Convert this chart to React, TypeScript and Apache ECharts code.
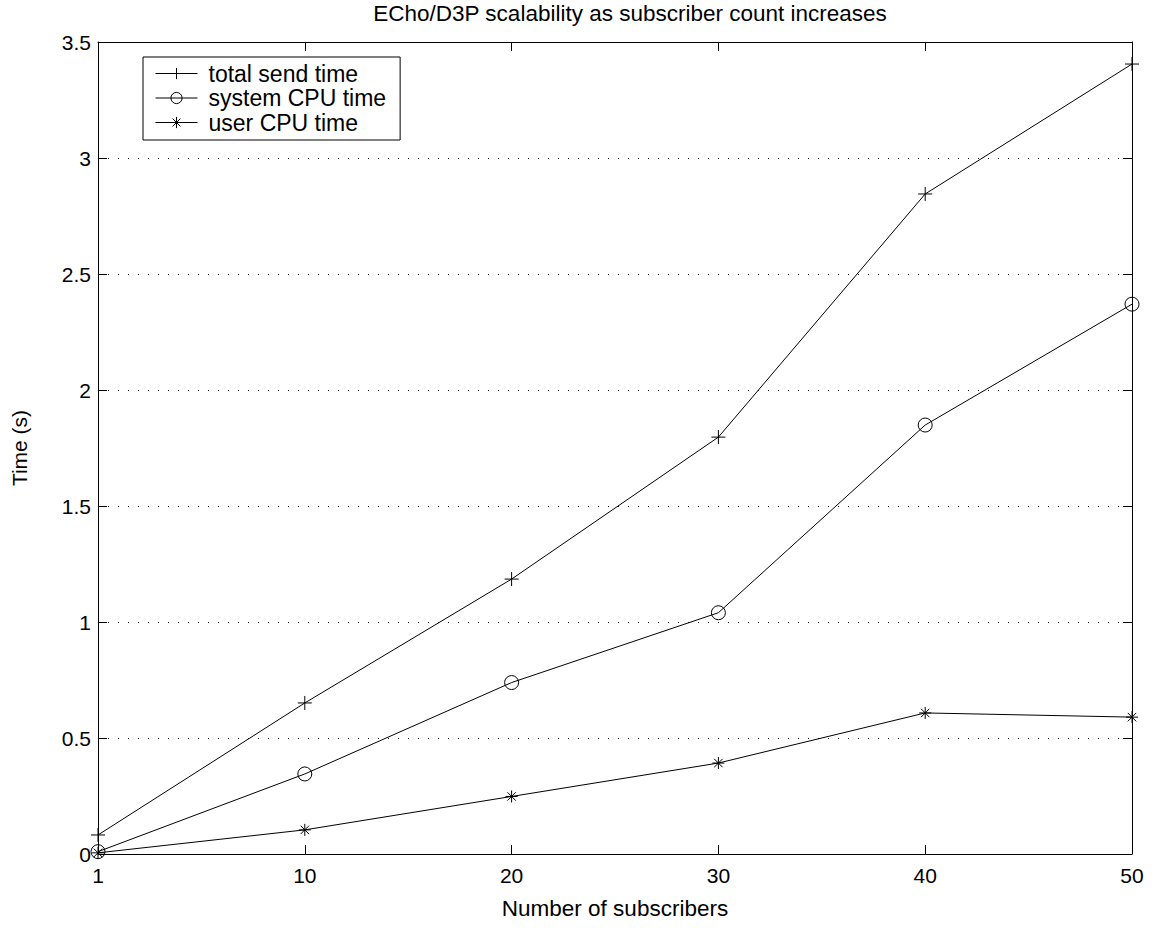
import React, { useEffect, useRef } from "react";
import * as echarts from "echarts";

const xCategories = ["1", "10", "20", "30", "40", "50"];
const totalSend = [0.082, 0.651, 1.185, 1.797, 2.845, 3.405];
const systemCpu = [0.01, 0.345, 0.739, 1.04, 1.849, 2.37];
const userCpu = [0.005, 0.104, 0.248, 0.392, 0.608, 0.59];
const seriesNames = ["total send time", "system CPU time", "user CPU time"];

const PLUS = "path://M0,5L10,5M5,0L5,10";
const CIRCLE = "path://M10,5A5,5,0,1,1,0,5A5,5,0,1,1,10,5Z";
const STAR = "path://M0,5L10,5M5,0L5,10M1.5,1.5L8.5,8.5M1.5,8.5L8.5,1.5";

const FONT = "Liberation Sans, Arial, Helvetica, sans-serif";

export default function App() {
  const ref = useRef<HTMLDivElement>(null);
  useEffect(() => {
    document.body.style.margin = "0";
    const chart = echarts.init(ref.current!, null, { renderer: "svg" });
    const mk = (name: string, vals: number[], symbol: string, size: number) => ({
      name,
      type: "line",
      data: vals,
      symbol,
      symbolSize: size,
      showSymbol: true,
      color: "#000",
      lineStyle: { color: "#000", width: 1 },
      itemStyle: { color: "none", borderColor: "#000", borderWidth: 1 },
      emphasis: { disabled: true },
      z: 3,
    });
    const tickCommon = {
      show: true,
      inside: true,
      length: 9,
      alignWithLabel: true,
      lineStyle: { color: "#000", width: 1 },
    };
    chart.setOption({
      animation: false,
      backgroundColor: "#fff",
      textStyle: { fontFamily: FONT, color: "#000" },
      title: {
        text: "ECho/D3P scalability as subscriber count increases",
        left: 625,
        textAlign: "center",
        top: -3,
        textStyle: { fontFamily: FONT, fontSize: 22.5, fontWeight: "normal", color: "#000" },
      },
      legend: {
        orient: "vertical",
        left: 143,
        top: 57,
        data: seriesNames,
        borderColor: "#000",
        borderWidth: 1,
        borderRadius: 0,
        backgroundColor: "#fff",
        padding: [5, 14, 6, 12],
        itemWidth: 42,
        itemHeight: 14,
        itemGap: 1.5,
        selectedMode: false,
        lineStyle: { width: 1, color: "#000" },
        itemStyle: { color: "none", borderColor: "#000", borderWidth: 1 },
        textStyle: { fontFamily: FONT, fontSize: 23, color: "#000", padding: [0, 0, 0, 6], lineHeight: 20 },
      },
      grid: { left: 98, right: 23, top: 42, bottom: 78, containLabel: false },
      xAxis: [
        {
          type: "category",
          data: xCategories,
          boundaryGap: false,
          position: "bottom",
          name: "Number of subscribers",
          nameLocation: "middle",
          nameGap: 43,
          nameTextStyle: { fontFamily: FONT, fontSize: 22.5, color: "#000" },
          axisLine: { show: true, onZero: false, lineStyle: { color: "#000", width: 1 } },
          axisTick: tickCommon,
          axisLabel: { fontFamily: FONT, fontSize: 21, color: "#000", margin: 11 },
          splitLine: { show: false },
        },
        {
          type: "category",
          data: xCategories,
          boundaryGap: false,
          position: "top",
          axisLine: { show: true, onZero: false, lineStyle: { color: "#000", width: 1 } },
          axisTick: tickCommon,
          axisLabel: { show: false },
          splitLine: { show: false },
        },
      ],
      yAxis: [
        {
          type: "value",
          min: 0,
          max: 3.5,
          interval: 0.5,
          position: "left",
          name: "Time (s)",
          nameLocation: "middle",
          nameGap: 68,
          nameTextStyle: { fontFamily: FONT, fontSize: 21, color: "#000" },
          axisLine: { show: true, onZero: false, lineStyle: { color: "#000", width: 1 } },
          axisTick: { ...tickCommon, alignWithLabel: false },
          axisLabel: { fontFamily: FONT, fontSize: 21, color: "#000", margin: 7 },
          splitLine: { show: true, lineStyle: { color: "#000", width: 1, type: [1, 9] } },
        },
        {
          type: "value",
          min: 0,
          max: 3.5,
          interval: 0.5,
          position: "right",
          axisLine: { show: true, onZero: false, lineStyle: { color: "#000", width: 1 } },
          axisTick: { ...tickCommon, alignWithLabel: false },
          axisLabel: { show: false },
          splitLine: { show: false },
        },
      ],
      series: [
        mk(seriesNames[0], totalSend, PLUS, 14),
        mk(seriesNames[1], systemCpu, CIRCLE, 14),
        mk(seriesNames[2], userCpu, STAR, 12),
      ],
    });
    return () => chart.dispose();
  }, []);
  return <div ref={ref} style={{ width: 1155, height: 932 }} />;
}
